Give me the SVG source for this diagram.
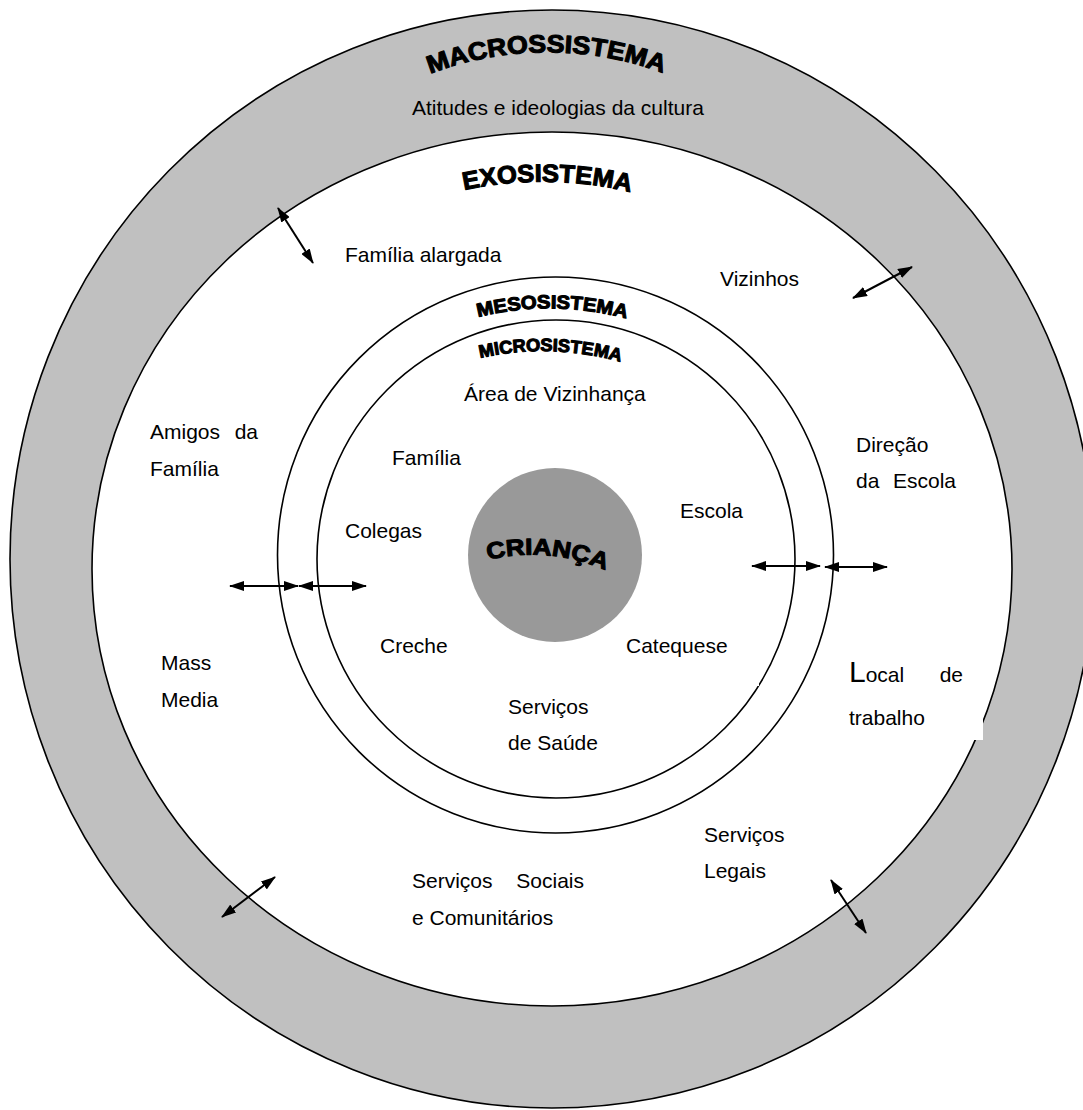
<svg xmlns="http://www.w3.org/2000/svg" width="1083" height="1110" viewBox="0 0 1083 1110">
  <style>
    .ring { stroke: #000; stroke-width: 1.6; }
    .lbl { font-family: "Liberation Sans", Arial, sans-serif; font-size: 21px; fill: #000; }
    .title { font-family: "Liberation Sans", Arial, sans-serif; font-weight: bold; fill: #000; stroke: #000; stroke-width: 1.1; stroke-linejoin: round; }
    .conn { stroke: #000; stroke-width: 2; fill: none; marker-start: url(#head); marker-end: url(#head); }
  </style>
  <defs>
    <marker id="head" viewBox="0 0 15 10" refX="14" refY="5" markerWidth="15" markerHeight="10" markerUnits="userSpaceOnUse" orient="auto-start-reverse">
      <path d="M0,0 L15,5 L0,10 z" fill="#000"/>
    </marker>
    <!-- baselines for the arched titles -->
    <path id="arc-macro" d="M 430,74 A 330 330 0 0 1 668,75"/>
    <path id="arc-exo" d="M 464,190 A 380 380 0 0 1 634,193"/>
    <path id="arc-meso" d="M 478,317 A 300 300 0 0 1 628,319"/>
    <path id="arc-micro" d="M 480,358 A 290 290 0 0 1 621,362"/>
    <path id="arc-child" d="M 488,560 Q 548,545 610,572"/>
  </defs>

  <rect width="1083" height="1110" fill="#fff"/>

  <!-- macrosystem: outer grey ring -->
  <g id="macrossistema">
    <ellipse class="ring" cx="552" cy="559" rx="542" ry="549" fill="#c0c0c0"/>
    <text class="title" font-size="25"><textPath href="#arc-macro" textLength="238" lengthAdjust="spacingAndGlyphs">MACROSSISTEMA</textPath></text>
    <text class="lbl" x="412" y="115">Atitudes e ideologias da cultura</text>
  </g>

  <!-- exosystem -->
  <g id="exosistema">
    <ellipse class="ring" cx="552" cy="569" rx="460" ry="437" fill="#fff"/>
    <text class="title" font-size="25"><textPath href="#arc-exo" textLength="168" lengthAdjust="spacingAndGlyphs">EXOSISTEMA</textPath></text>
    <text class="lbl" x="345" y="262">Família alargada</text>
    <text class="lbl" x="720" y="286">Vizinhos</text>
    <text class="lbl" x="150" y="439">Amigos</text>
    <text class="lbl" x="258" y="439" text-anchor="end">da</text>
    <text class="lbl" x="150" y="476">Família</text>
    <text class="lbl" x="856" y="452">Direção</text>
    <text class="lbl" x="856" y="488">da</text>
    <text class="lbl" x="956" y="488" text-anchor="end">Escola</text>
    <text class="lbl" x="161" y="670">Mass</text>
    <text class="lbl" x="161" y="707">Media</text>
    <rect x="835" y="640" width="148" height="100" fill="#fff"/>
    <text class="lbl" x="849" y="682"><tspan font-size="30">L</tspan>ocal</text>
    <text class="lbl" x="963" y="682" text-anchor="end">de</text>
    <text class="lbl" x="849" y="725">trabalho</text>
    <text class="lbl" x="704" y="842">Serviços</text>
    <text class="lbl" x="704" y="878">Legais</text>
    <text class="lbl" x="412" y="888">Serviços</text>
    <text class="lbl" x="584" y="888" text-anchor="end">Sociais</text>
    <text class="lbl" x="412" y="925">e Comunitários</text>
  </g>

  <!-- mesosystem -->
  <g id="mesosistema">
    <circle class="ring" cx="555.5" cy="555" r="278" fill="#fff"/>
    <text class="title" font-size="19"><textPath href="#arc-meso" textLength="150" lengthAdjust="spacingAndGlyphs">MESOSISTEMA</textPath></text>
  </g>

  <!-- microsystem -->
  <g id="microsistema">
    <circle class="ring" cx="556" cy="559" r="239" fill="#fff"/>
    <text class="title" font-size="18"><textPath href="#arc-micro" textLength="142" lengthAdjust="spacingAndGlyphs">MICROSISTEMA</textPath></text>
    <rect x="755" y="676" width="4" height="10" fill="#fff"/>
    <text class="lbl" x="464" y="401">Área de Vizinhança</text>
    <text class="lbl" x="392" y="465">Família</text>
    <text class="lbl" x="680" y="518">Escola</text>
    <text class="lbl" x="345" y="538">Colegas</text>
    <text class="lbl" x="380" y="653">Creche</text>
    <text class="lbl" x="626" y="653">Catequese</text>
    <text class="lbl" x="508" y="714">Serviços</text>
    <text class="lbl" x="508" y="750">de Saúde</text>
  </g>

  <!-- the child at the centre -->
  <g id="crianca">
    <circle cx="555" cy="555" r="87" fill="#999"/>
    <text class="title" font-size="23"><textPath href="#arc-child" textLength="120" lengthAdjust="spacingAndGlyphs">CRIANÇA</textPath></text>
  </g>

  <!-- two-way influence arrows between the levels -->
  <g id="connectors">
    <line class="conn" x1="278" y1="208" x2="313" y2="263"/>
    <line class="conn" x1="853" y1="298" x2="912" y2="267"/>
    <line class="conn" x1="230" y1="586" x2="298" y2="586"/>
    <line class="conn" x1="299" y1="586" x2="366" y2="586"/>
    <line class="conn" x1="752" y1="566" x2="820" y2="566"/>
    <line class="conn" x1="825" y1="567" x2="887" y2="567"/>
    <line class="conn" x1="222" y1="917" x2="275" y2="877"/>
    <line class="conn" x1="831" y1="880" x2="866" y2="933"/>
  </g>
</svg>
